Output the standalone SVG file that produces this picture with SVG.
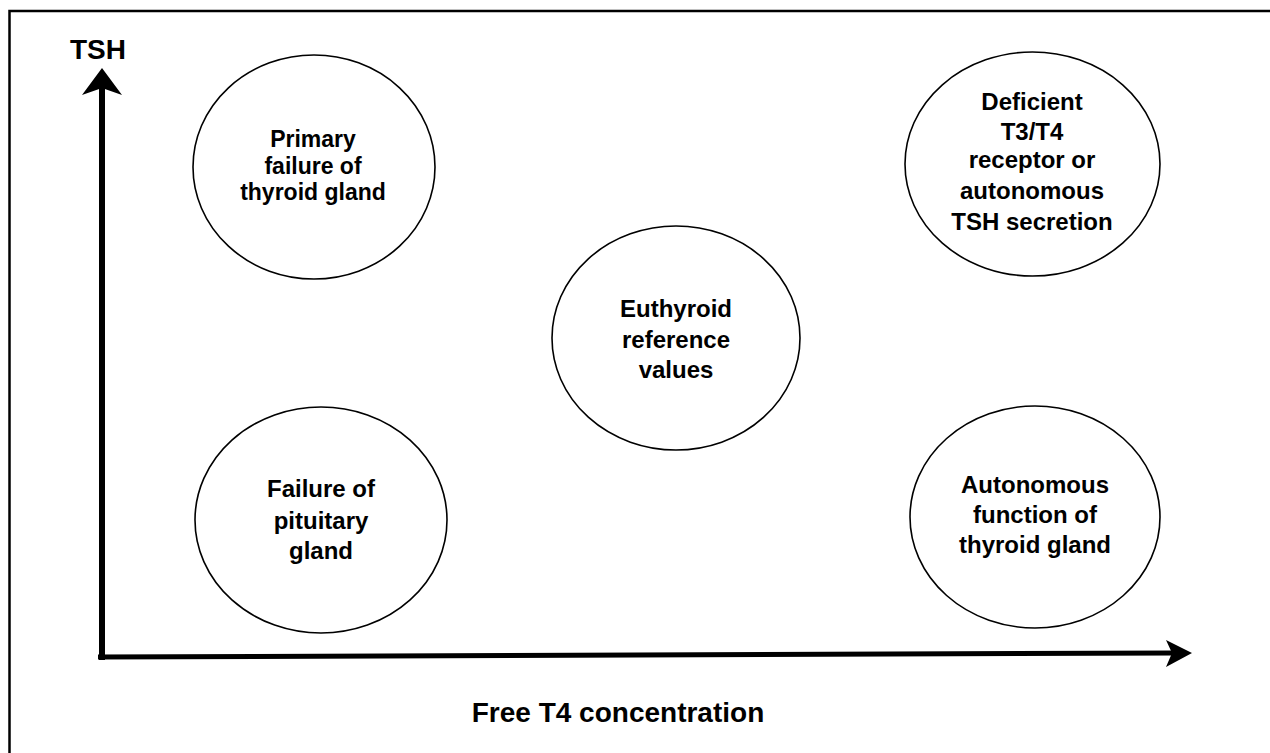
<svg xmlns="http://www.w3.org/2000/svg" width="1270" height="753" viewBox="0 0 1270 753">
<style>
.node ellipse{fill:none;stroke:#000;stroke-width:1.6}
.lbl{font-family:"Liberation Sans",Arial,sans-serif;font-weight:bold;font-size:24px;fill:#000;text-anchor:middle}
.ax{font-family:"Liberation Sans",Arial,sans-serif;font-weight:bold;font-size:28px;fill:#000}
</style>
<rect width="1270" height="753" fill="#fff"/>
<rect x="9.5" y="11" width="1300" height="800" fill="none" stroke="#000" stroke-width="2.5"/>
<g id="connectors">
<line x1="102" y1="660" x2="102" y2="86" stroke="#000" stroke-width="6"/>
<polygon points="102,68 122,95 102,88 82,95" fill="#000"/>
<line x1="98" y1="657" x2="1175" y2="653" stroke="#000" stroke-width="5"/>
<polygon points="1192,653 1166,640 1172,653 1166,667" fill="#000"/>
</g>
<text class="ax" x="70" y="59">TSH</text>
<text class="ax" x="618" y="722" text-anchor="middle">Free T4 concentration</text>
<g id="primary" class="node">
<ellipse cx="314" cy="167" rx="121" ry="112"/>
<text class="lbl" style="font-size:23px" x="313" y="147">Primary</text>
<text class="lbl" style="font-size:23px" x="313" y="173.5">failure of</text>
<text class="lbl" style="font-size:23px" x="313" y="200">thyroid gland</text>
</g>
<g id="deficient" class="node">
<ellipse cx="1032.5" cy="164" rx="127.5" ry="112"/>
<text class="lbl" x="1032" y="110">Deficient</text>
<text class="lbl" x="1032" y="140">T3/T4</text>
<text class="lbl" x="1032" y="168">receptor or</text>
<text class="lbl" x="1032" y="199">autonomous</text>
<text class="lbl" x="1032" y="230">TSH secretion</text>
</g>
<g id="euthyroid" class="node">
<ellipse cx="676" cy="338" rx="124" ry="112"/>
<text class="lbl" x="676" y="317">Euthyroid</text>
<text class="lbl" x="676" y="348">reference</text>
<text class="lbl" x="676" y="378">values</text>
</g>
<g id="pituitary" class="node">
<ellipse cx="321" cy="520" rx="126" ry="113"/>
<text class="lbl" x="321" y="497">Failure of</text>
<text class="lbl" x="321" y="529">pituitary</text>
<text class="lbl" x="321" y="559">gland</text>
</g>
<g id="autonomous" class="node">
<ellipse cx="1035" cy="517" rx="125" ry="111"/>
<text class="lbl" x="1035" y="493">Autonomous</text>
<text class="lbl" x="1035" y="523">function of</text>
<text class="lbl" x="1035" y="553">thyroid gland</text>
</g>
</svg>
